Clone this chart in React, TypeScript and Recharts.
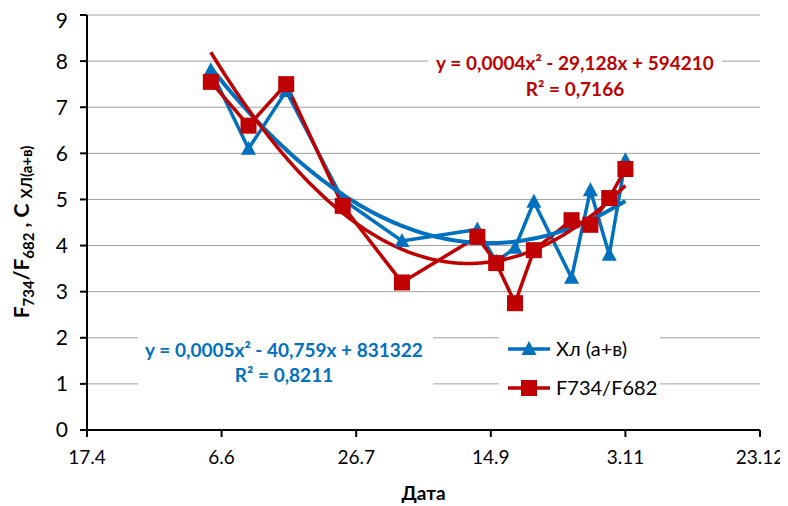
import React from 'react';
import { ComposedChart, Line, XAxis, YAxis, CartesianGrid, Customized } from 'recharts';

// days counted from 17.4
const days = [46, 60, 74, 95, 117, 145, 152, 159, 166, 180, 187, 194, 200];
const chlValues = [7.8, 6.1, 7.35, 5.0, 4.1, 4.35, 3.65, 3.95, 4.95, 3.3, 5.2, 3.8, 5.85];
const fRatioValues = [7.55, 6.6, 7.5, 4.86, 3.2, 4.19, 3.62, 2.75, 3.9, 4.55, 4.45, 5.03, 5.66];
const xTicks = [0, 50, 100, 150, 200, 250];
const xTickLabels = ['17.4', '6.6', '26.7', '14.9', '3.11', '23.12'];
const yTicks = [0, 1, 2, 3, 4, 5, 6, 7, 8, 9];

const BLUE = '#0070C0';
const RED = '#C00000';
const FONT = 'Lato, "Open Sans", sans-serif';

// least-squares quadratic trend (as the spreadsheet trendline)
function quadFit(xs: number[], ys: number[]) {
  const S = [0, 0, 0, 0, 0];
  const T = [0, 0, 0];
  xs.forEach((x, i) => {
    for (let k = 0; k < 5; k++) S[k] += Math.pow(x, k);
    for (let k = 0; k < 3; k++) T[k] += Math.pow(x, k) * ys[i];
  });
  const A = [
    [S[0], S[1], S[2], T[0]],
    [S[1], S[2], S[3], T[1]],
    [S[2], S[3], S[4], T[2]],
  ];
  for (let i = 0; i < 3; i++) {
    for (let j = i + 1; j < 3; j++) {
      const f = A[j][i] / A[i][i];
      for (let k = i; k < 4; k++) A[j][k] -= f * A[i][k];
    }
  }
  const c = [0, 0, 0];
  for (let i = 2; i >= 0; i--) {
    let s = A[i][3];
    for (let k = i + 1; k < 3; k++) s -= A[i][k] * c[k];
    c[i] = s / A[i][i];
  }
  return (x: number) => c[0] + c[1] * x + c[2] * x * x;
}

function trend(ys: number[]) {
  const f = quadFit(days, ys);
  const out: { x: number; y: number }[] = [];
  for (let d = days[0]; d <= days[days.length - 1]; d += 1) out.push({ x: d, y: f(d) });
  return out;
}

const chlData = days.map((x, i) => ({ x, y: chlValues[i] }));
const fData = days.map((x, i) => ({ x, y: fRatioValues[i] }));
const chlTrend = trend(chlValues);
const fTrend = trend(fRatioValues);

const Triangle = (props: any) => {
  const { cx, cy } = props;
  if (cx == null || cy == null) return null;
  return <path d={`M${cx},${cy - 8} L${cx + 7.5},${cy + 6} L${cx - 7.5},${cy + 6} Z`} fill={BLUE} />;
};
const Square = (props: any) => {
  const { cx, cy } = props;
  if (cx == null || cy == null) return null;
  return <rect x={cx - 8} y={cy - 8} width={16} height={16} fill={RED} />;
};

const Overlays = () => (
  <g>
    {/* red trend equation */}
    <rect x={420} y={42} width={294} height={54} fill="#fff" />
    <text x={567} y={62} textAnchor="middle" fill={RED} fontFamily={FONT} fontWeight="bold" fontSize={19}>
      y = 0,0004x² - 29,128x + 594210
    </text>
    <text x={567} y={88} textAnchor="middle" fill={RED} fontFamily={FONT} fontWeight="bold" fontSize={19}>
      R² = 0,7166
    </text>
    {/* blue trend equation */}
    <rect x={130} y={322} width={295} height={66} fill="#fff" />
    <text x={276} y={349} textAnchor="middle" fill={BLUE} fontFamily={FONT} fontWeight="bold" fontSize={19}>
      y = 0,0005x² - 40,759x + 831322
    </text>
    <text x={276} y={374} textAnchor="middle" fill={BLUE} fontFamily={FONT} fontWeight="bold" fontSize={19}>
      R² = 0,8211
    </text>
    {/* legend */}
    <rect x={491} y={322} width={161} height={66} fill="#fff" />
    <line x1={500} y1={341} x2={542} y2={341} stroke={BLUE} strokeWidth={3.5} />
    <Triangle cx={521} cy={341} />
    <text x={548} y={348} fill="#000" fontFamily={FONT} fontSize={20}>Хл (а+в)</text>
    <line x1={500} y1={380} x2={542} y2={380} stroke={RED} strokeWidth={3.5} />
    <Square cx={521} cy={380} />
    <text x={548} y={387} fill="#000" fontFamily={FONT} fontSize={20}>F734/F682</text>
  </g>
);

const YLabel = () => (
  <text
    x={21}
    y={224}
    transform="rotate(-90, 21, 224)"
    textAnchor="middle"
    fontFamily={FONT}
    fontWeight="bold"
    fontSize={21}
    fill="#000"
  >
    <tspan>F</tspan>
    <tspan fontSize={15} dy={5}>734</tspan>
    <tspan dy={-5}>/F</tspan>
    <tspan fontSize={15} dy={5}>682</tspan>
    <tspan dy={-5}>{'\u00A0,\u00A0С\u00A0'}</tspan>
    <tspan fontSize={15} dy={3}>ХЛ(а+в)</tspan>
  </text>
);

export default function App() {
  return (
    <div style={{ width: 780, height: 498, background: '#fff' }}>
      <ComposedChart width={780} height={498} margin={{ top: 7, right: 28, bottom: 0, left: 0 }}>
        <CartesianGrid vertical={false} stroke="#a0a0a0" strokeWidth={1} />
        <XAxis
          type="number"
          dataKey="x"
          domain={[0, 250]}
          ticks={xTicks}
          tickFormatter={(v: number) => xTickLabels[xTicks.indexOf(v)] ?? ''}
          height={76}
          tickSize={7}
          tickMargin={14}
          axisLine={{ stroke: '#000', strokeWidth: 2 }}
          tickLine={{ stroke: '#000', strokeWidth: 2 }}
          tick={{ fill: '#000', fontFamily: FONT, fontSize: 19 }}
          allowDuplicatedCategory={false}
          label={{ value: 'Дата', position: 'insideBottom', offset: 6, fill: '#000', fontFamily: FONT, fontWeight: 'bold', fontSize: 19 }}
        />
        <YAxis
          type="number"
          domain={[0, 9]}
          ticks={yTicks}
          width={79}
          tickSize={7}
          tickMargin={12}
          axisLine={{ stroke: '#000', strokeWidth: 2 }}
          tickLine={{ stroke: '#000', strokeWidth: 2 }}
          tick={{ fill: '#000', fontFamily: FONT, fontSize: 21 }}
          label={{ content: () => <YLabel /> }}
        />
        <Line data={chlData} dataKey="y" stroke={BLUE} strokeWidth={3.5} dot={<Triangle />} activeDot={false} isAnimationActive={false} />
        <Line data={fData} dataKey="y" stroke={RED} strokeWidth={3.5} dot={<Square />} activeDot={false} isAnimationActive={false} />
        <Line data={chlTrend} dataKey="y" type="monotone" stroke={BLUE} strokeWidth={4} dot={false} activeDot={false} isAnimationActive={false} />
        <Line data={fTrend} dataKey="y" type="monotone" stroke={RED} strokeWidth={3.5} dot={false} activeDot={false} isAnimationActive={false} />
        <Customized component={<Overlays />} />
      </ComposedChart>
    </div>
  );
}
